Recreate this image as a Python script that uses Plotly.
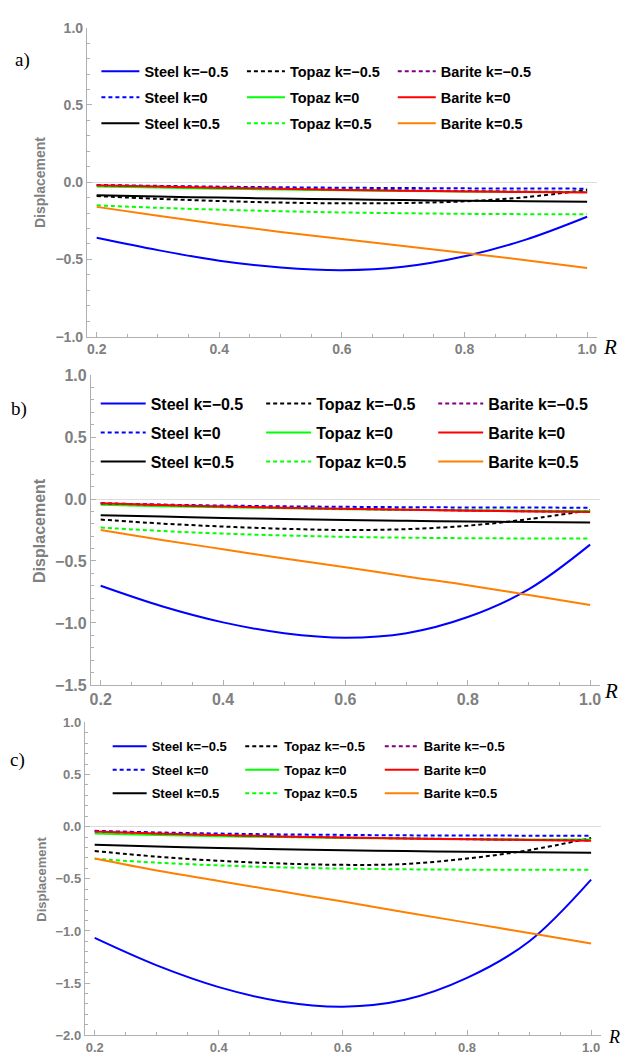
import plotly.graph_objects as go

W, H = 627, 1062

# ---------------- data ----------------
R = [0.2, 0.3, 0.4, 0.5, 0.6, 0.7, 0.8, 0.9, 1.0]
x_ticks = [0.2, 0.4, 0.6, 0.8, 1.0]
y_ticks_a = [-1.0, -0.5, 0.0, 0.5, 1.0]
y_ticks_b = [-1.5, -1.0, -0.5, 0.0, 0.5, 1.0]
y_ticks_c = [-2.0, -1.5, -1.0, -0.5, 0.0, 0.5, 1.0]
legend_names = ["Steel k=−0.5", "Steel k=0", "Steel k=0.5",
                "Topaz k=−0.5", "Topaz k=0", "Topaz k=0.5",
                "Barite k=−0.5", "Barite k=0", "Barite k=0.5"]

# panel a
a_steel_km05 = [-0.36, -0.44, -0.508, -0.552, -0.57, -0.548, -0.48, -0.372, -0.224]
a_steel_k0 = [-0.018, -0.024, -0.029, -0.033, -0.036, -0.038, -0.040, -0.041, -0.042]
a_steel_k05 = [-0.084, -0.093, -0.100, -0.106, -0.111, -0.116, -0.120, -0.123, -0.126]
a_topaz_km05 = [-0.090, -0.108, -0.122, -0.132, -0.137, -0.135, -0.124, -0.097, -0.050]
a_topaz_k0 = [-0.028, -0.035, -0.042, -0.048, -0.053, -0.057, -0.060, -0.062, -0.063]
a_topaz_k05 = [-0.150, -0.166, -0.178, -0.188, -0.196, -0.201, -0.205, -0.207, -0.208]
a_barite_km05 = [-0.020, -0.027, -0.034, -0.041, -0.047, -0.052, -0.057, -0.061, -0.064]
a_barite_k0 = [-0.020, -0.028, -0.036, -0.043, -0.050, -0.055, -0.060, -0.064, -0.067]
a_barite_k05 = [-0.160, -0.218, -0.272, -0.322, -0.368, -0.413, -0.458, -0.505, -0.555]

# panel b
b_steel_km05 = [-0.70, -0.865, -0.995, -1.082, -1.118, -1.082, -0.952, -0.727, -0.368]
b_steel_k0 = [-0.034, -0.045, -0.053, -0.059, -0.063, -0.066, -0.068, -0.069, -0.070]
b_steel_k05 = [-0.130, -0.142, -0.153, -0.162, -0.170, -0.176, -0.181, -0.186, -0.190]
b_topaz_km05 = [-0.166, -0.198, -0.222, -0.240, -0.250, -0.243, -0.215, -0.162, -0.090]
b_topaz_k0 = [-0.047, -0.058, -0.067, -0.075, -0.082, -0.087, -0.091, -0.094, -0.097]
b_topaz_k05 = [-0.230, -0.258, -0.279, -0.294, -0.305, -0.312, -0.316, -0.318, -0.318]
b_barite_km05 = [-0.036, -0.048, -0.060, -0.070, -0.079, -0.086, -0.093, -0.099, -0.103]
b_barite_k0 = [-0.035, -0.048, -0.060, -0.070, -0.079, -0.087, -0.094, -0.100, -0.105]
b_barite_k05 = [-0.25, -0.33, -0.405, -0.48, -0.55, -0.625, -0.695, -0.775, -0.855]

# panel c
c_steel_km05 = [-1.067, -1.33, -1.538, -1.675, -1.726, -1.66, -1.45, -1.10, -0.507]
c_steel_k0 = [-0.040, -0.055, -0.066, -0.074, -0.079, -0.083, -0.085, -0.086, -0.087]
c_steel_k05 = [-0.174, -0.190, -0.204, -0.216, -0.226, -0.234, -0.240, -0.245, -0.249]
c_topaz_km05 = [-0.233, -0.287, -0.327, -0.353, -0.366, -0.358, -0.305, -0.225, -0.109]
c_topaz_k0 = [-0.065, -0.079, -0.091, -0.100, -0.108, -0.114, -0.119, -0.122, -0.124]
c_topaz_k05 = [-0.308, -0.345, -0.371, -0.390, -0.402, -0.409, -0.412, -0.413, -0.413]
c_barite_km05 = [-0.046, -0.064, -0.079, -0.092, -0.103, -0.112, -0.120, -0.127, -0.132]
c_barite_k0 = [-0.047, -0.065, -0.080, -0.093, -0.104, -0.113, -0.121, -0.128, -0.134]
c_barite_k05 = [-0.305, -0.42, -0.52, -0.62, -0.718, -0.82, -0.92, -1.02, -1.12]

panel_series = [
    [a_steel_km05, a_steel_k0, a_steel_k05, a_topaz_km05, a_topaz_k0, a_topaz_k05,
     a_barite_km05, a_barite_k0, a_barite_k05],
    [b_steel_km05, b_steel_k0, b_steel_k05, b_topaz_km05, b_topaz_k0, b_topaz_k05,
     b_barite_km05, b_barite_k0, b_barite_k05],
    [c_steel_km05, c_steel_k0, c_steel_k05, c_topaz_km05, c_topaz_k0, c_topaz_k05,
     c_barite_km05, c_barite_k0, c_barite_k05],
]

# ---------------- styles ----------------
DOT = "4px,3px"
styles = [("#0000ff", "solid"), ("#0000ff", DOT), ("#000000", "solid"),
          ("#000000", DOT), ("#00ff00", "solid"), ("#00ff00", DOT),
          ("#800080", DOT), ("#ff0000", "solid"), ("#ff8000", "solid")]

GRAY_TXT = "#808080"
GRAY_AX = "#b0b0b0"
FONT = "Liberation Sans, Arial, sans-serif"
SERIF = "Liberation Serif, Times New Roman, serif"


def px_x(p):
    return p / W


def px_y(p):
    return 1 - p / H


# panel geometry in pixels
panels = [
    dict(x02=96, x10=588, ytop=20, ybot=334, yr=[-1.0, 1.0], yt=y_ticks_a, tf=14,
         leg_font=14.5, leg_iw=38, leg_x=[95.7, 241.7, 393], leg_row1=64, leg_dy=26,
         title_x=39, title_fs=14, lab="a)", lab_xy=(22, 53), r_xy=(611, 345), r_fs=21),
    dict(x02=100, x10=591, ytop=373, ybot=688, yr=[-1.5, 1.0], yt=y_ticks_b, tf=16,
         leg_font=16, leg_iw=45, leg_x=[95, 261, 433.6], leg_row1=401.7, leg_dy=29,
         title_x=38, title_fs=16, lab="b)", lab_xy=(18, 408), r_xy=(612, 694), r_fs=21),
    dict(x02=94, x10=592, ytop=726, ybot=1044, yr=[-2.0, 1.0], yt=y_ticks_c, tf=13,
         leg_font=13, leg_iw=34, leg_x=[107, 240, 380], leg_row1=750, leg_dy=23.5,
         title_x=41, title_fs=13, lab="c)", lab_xy=(17, 764), r_xy=(615, 1046), r_fs=18),
]

XR = [0.184, 1.016]

fig = go.Figure()
layout = dict(width=W, height=H, margin=dict(l=0, r=0, t=0, b=0),
              plot_bgcolor="white", paper_bgcolor="white", showlegend=True,
              annotations=[])

for pi, p in enumerate(panels):
    sfx = "" if pi == 0 else str(pi + 1)
    xa, ya = "x" + sfx, "y" + sfx
    per = (p["x10"] - p["x02"]) / 0.8
    xl = p["x02"] - (0.2 - XR[0]) * per
    xr = p["x10"] + (XR[1] - 1.0) * per

    for si, ys in enumerate(panel_series[pi]):
        color, dash = styles[si]
        leg_idx = pi * 3 + si // 3
        leg_name = "legend" if leg_idx == 0 else "legend" + str(leg_idx + 1)
        fig.add_trace(go.Scatter(
            x=R, y=ys, mode="lines", name=legend_names[si],
            line=dict(color=color, width=2, dash=dash, shape="spline", smoothing=1.0),
            xaxis=xa, yaxis=ya, legend=leg_name, legendgroup=f"g{pi}_{si}",
            hoverinfo="skip"))

    layout["xaxis" + sfx] = dict(
        domain=[px_x(xl), px_x(xr)], range=XR, anchor=ya,
        tickmode="array", tickvals=x_ticks, ticktext=[f"{v:.1f}" for v in x_ticks],
        ticks="inside", ticklen=5, tickcolor=GRAY_AX, tickwidth=1,
        minor=dict(tick0=0, dtick=0.05, ticks="inside", ticklen=3, tickcolor=GRAY_AX),
        showline=True, linecolor=GRAY_AX, linewidth=1, showgrid=False, zeroline=False,
        tickfont=dict(family=FONT, size=p["tf"], color=GRAY_TXT, weight="bold"),
        fixedrange=True)
    layout["yaxis" + sfx] = dict(
        domain=[px_y(p["ybot"]), px_y(p["ytop"])], range=p["yr"], anchor=xa,
        tickmode="array", tickvals=p["yt"], ticktext=[f"{v:.1f}".replace("-", "−") for v in p["yt"]],
        ticks="inside", ticklen=5, tickcolor=GRAY_AX, tickwidth=1,
        minor=dict(tick0=0, dtick=0.1, ticks="inside", ticklen=3, tickcolor=GRAY_AX),
        showline=True, linecolor=GRAY_AX, linewidth=1, showgrid=False,
        zeroline=True, zerolinecolor="#dcdcdc", zerolinewidth=1,
        tickfont=dict(family=FONT, size=p["tf"], color=GRAY_TXT, weight="bold"),
        fixedrange=True)

    # legends (three columns per panel)
    h_item = max(p["leg_font"] * 1.3, 16) + 3
    gap = p["leg_dy"] - h_item
    top = p["leg_row1"] - h_item / 2 - 5
    for ci in range(3):
        leg_idx = pi * 3 + ci
        leg_name = "legend" if leg_idx == 0 else "legend" + str(leg_idx + 1)
        layout[leg_name] = dict(
            x=px_x(p["leg_x"][ci]), xanchor="left", y=px_y(top), yanchor="top",
            orientation="v", traceorder="grouped", tracegroupgap=gap,
            itemwidth=p["leg_iw"], bgcolor="rgba(0,0,0,0)", borderwidth=0,
            font=dict(family=FONT, size=p["leg_font"], color="black", weight="bold"))

    # axis title, panel label, R label
    layout["annotations"] += [
        dict(text="Displacement", textangle=-90, xref="paper", yref="paper",
             x=px_x(p["title_x"]), y=px_y((p["ytop"] + p["ybot"]) / 2),
             xanchor="center", yanchor="middle", showarrow=False,
             font=dict(family=FONT, size=p["title_fs"], color=GRAY_TXT, weight="bold")),
        dict(text=p["lab"], xref="paper", yref="paper",
             x=px_x(p["lab_xy"][0]), y=px_y(p["lab_xy"][1]),
             xanchor="center", yanchor="middle", showarrow=False,
             font=dict(family=SERIF, size=19, color="black")),
        dict(text="<i>R</i>", xref="paper", yref="paper",
             x=px_x(p["r_xy"][0]), y=px_y(p["r_xy"][1]),
             xanchor="center", yanchor="middle", showarrow=False,
             font=dict(family=SERIF, size=p["r_fs"], color="black")),
    ]

fig.update_layout(**layout)
fig.write_html("out.html", config={"displayModeBar": False},
               post_script="document.body.style.margin='0';document.body.style.overflow='hidden';")
